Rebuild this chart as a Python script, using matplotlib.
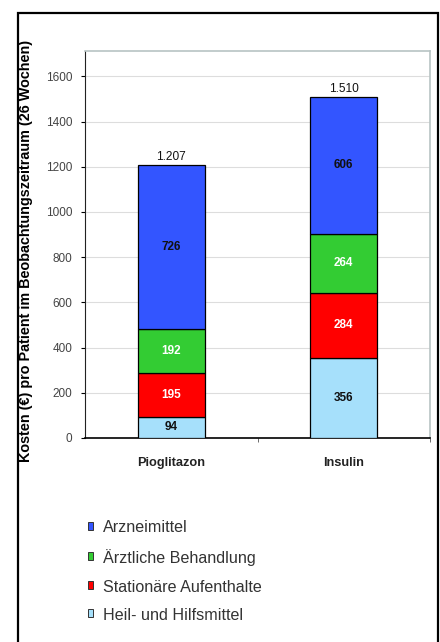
import numpy as np
import matplotlib.pyplot as plt
from matplotlib.patches import Rectangle

# Kosten je Patient, gestapelt von unten nach oben
gruppen = ['Pioglitazon', 'Insulin']
kategorien = ['Heil- und Hilfsmittel', 'Stationäre Aufenthalte', 'Ärztliche Behandlung', 'Arzneimittel']
werte = {
    'Heil- und Hilfsmittel': [94, 356],
    'Stationäre Aufenthalte': [195, 284],
    'Ärztliche Behandlung': [192, 264],
    'Arzneimittel': [726, 606],
}
summen = ['1.207', '1.510']
yticks = [0, 200, 400, 600, 800, 1000, 1200, 1400, 1600]

farben = {
    'Heil- und Hilfsmittel': '#a6e0fb',
    'Stationäre Aufenthalte': '#ff0000',
    'Ärztliche Behandlung': '#33cc33',
    'Arzneimittel': '#3355ff',
}
textfarben = {
    'Heil- und Hilfsmittel': '#111111',
    'Stationäre Aufenthalte': 'white',
    'Ärztliche Behandlung': 'white',
    'Arzneimittel': '#111111',
}

plt.rcParams['font.family'] = ['Liberation Sans', 'DejaVu Sans']

fig = plt.figure(figsize=(4.4, 6.42), dpi=100)
# Rahmen, unten offen (läuft über den Rand hinaus)
fig.patches.append(Rectangle((17.5/440, -0.02), 420.5/440, 1.0, transform=fig.transFigure,
                             fill=False, edgecolor='black', linewidth=1.6))

ax = fig.add_axes([85/440, 1 - 438/642, 345/440, (438 - 51)/642])
x = np.arange(len(gruppen))
unten = np.zeros(len(gruppen))
for k in kategorien:
    v = np.array(werte[k])
    ax.bar(x, v, 0.39, bottom=unten, color=farben[k], edgecolor='black', linewidth=0.9, zorder=3)
    for xi, (b, h) in enumerate(zip(unten, v)):
        ax.text(xi, b + h / 2, str(h), ha='center', va='center', fontsize=8.5,
                fontweight='bold', color=textfarben[k], zorder=4)
    unten += v

for xi, (t, s) in enumerate(zip(unten, summen)):
    ax.text(xi, t + 8, s, ha='center', va='bottom', fontsize=8.6, color='#111111')

ax.set_xlim(-0.5, 1.5)
ax.set_ylim(0, 1712)
ax.set_yticks(yticks)
ax.set_yticklabels([str(t) for t in yticks], fontsize=8.5, color='#444444')
ax.yaxis.grid(True, color='#dddddd', linewidth=0.8, zorder=0)
ax.set_xticks([0.5, 1.5], minor=True)
ax.set_xticks(x)
ax.set_xticklabels(gruppen, fontsize=9.2, fontweight='bold', color='#222222')
ax.tick_params(axis='x', which='major', length=0, pad=14)
ax.tick_params(axis='x', which='minor', length=3, direction='out', color='#555555')
ax.tick_params(axis='y', length=3, direction='out', pad=6)
for s in ['top', 'right']:
    ax.spines[s].set_color('#b8c4c4')
    ax.spines[s].set_linewidth(1.2)
ax.spines['left'].set_color('#222222')
ax.spines['bottom'].set_color('black')
ax.spines['bottom'].set_linewidth(1.2)

fig.text(26/440, 1 - 251/642, 'Kosten (€) pro Patient im Beobachtungszeitraum (26 Wochen)',
         rotation=90, ha='center', va='center', fontsize=10.4, fontweight='bold', color='black')

# Legende
leg_y = [528, 558, 587, 615]
for k, yy in zip(kategorien[::-1], leg_y):
    fig.patches.append(Rectangle((88/440, 1 - (yy + 2)/642), 5/440, 8/642, transform=fig.transFigure,
                                 facecolor=farben[k], edgecolor='#333333', linewidth=0.7))
    fig.text(103/440, 1 - yy/642, k, ha='left', va='center', fontsize=11.6, color='#333333')

fig.savefig('out.png', dpi=100)
